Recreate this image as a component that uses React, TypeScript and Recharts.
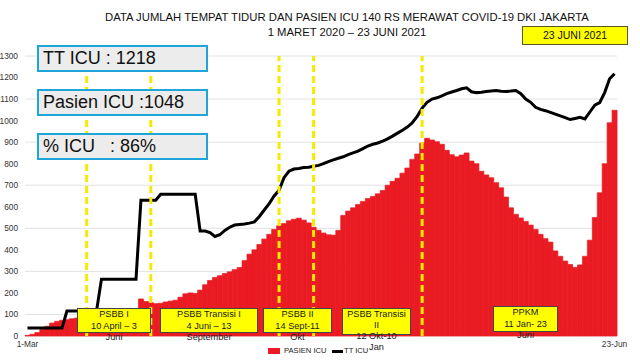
import { Bar, CartesianGrid, ComposedChart, Line, ReferenceLine, XAxis, YAxis } from "recharts";

// ICU patients, one reading every ~4 days, 1 Mar 2020 -> 23 Jun 2021
const pasienIcu = [
  3, 8, 16, 30, 45, 60, 68, 73, 76, 80,
  83, 85, 88, 90, 92, 95, 97, 100, 102, 105,
  108, 112, 118, 172, 160, 155, 150, 152, 158, 162,
  166, 180, 196, 200, 198, 213, 238, 258, 272, 280,
  290, 298, 308, 318, 350, 380, 400, 425, 450, 472,
  495, 512, 522, 535, 542, 547, 538, 525, 505, 491,
  478, 470, 468, 490, 560, 580, 595, 610, 625, 638,
  648, 660, 675, 700, 718, 732, 756, 780, 820, 845,
  895, 918, 910, 902, 890, 862, 842, 832, 840, 850,
  812, 800, 765, 748, 735, 712, 688, 645, 595, 565,
  548, 532, 515, 495, 472, 452, 436, 395, 370, 348,
  332, 318, 330, 370, 445, 550, 665, 800, 990, 1048,
];

// ICU beds (TT ICU)
const ttIcu = [
  37, 37, 37, 37, 37, 37, 37, 37, 116, 116,
  116, 116, 116, 116, 116, 264, 264, 264, 264, 264,
  264, 264, 264, 630, 630, 630, 630, 658, 658, 658,
  658, 658, 658, 658, 658, 487, 487, 480, 462, 470,
  490, 505, 515, 518, 520, 524, 530, 555, 585, 615,
  650, 677, 735, 765, 775, 778, 782, 784, 788, 792,
  800, 810, 818, 825, 832, 842, 850, 858, 870, 882,
  890, 896, 905, 915, 928, 942, 955, 970, 990, 1020,
  1058, 1085, 1100, 1106, 1115, 1125, 1133, 1140, 1148, 1152,
  1134, 1130, 1132, 1135, 1138, 1140, 1136, 1135, 1137, 1140,
  1125, 1100, 1085, 1062, 1052, 1046, 1038, 1030, 1022, 1014,
  1005, 1010, 1015, 1008, 1040, 1072, 1084, 1130, 1194, 1218,
];

const MONTHS = ["Jan", "Feb", "Mar", "Apr", "May", "Jun", "Jul", "Aug", "Sep", "Oct", "Nov", "Dec"];
const START = Date.UTC(2020, 2, 1);
const TOTAL_DAYS = 479;
const dates = pasienIcu.map((_, i) => {
  const d = new Date(START + Math.round((i * TOTAL_DAYS) / (pasienIcu.length - 1)) * 86400000);
  return `${d.getUTCDate()}-${MONTHS[d.getUTCMonth()]}-${d.getUTCFullYear()}`;
});

const yTicks = [0, 100, 200, 300, 400, 500, 600, 700, 800, 900, 1000, 1100, 1200, 1300];
const xTicks = [dates[0], dates[dates.length - 1]];
// where the yellow dashed phase lines sit (index into dates)
const phaseLineIdx = [12, 25, 51, 58, 80];

const stats = ["TT ICU : 1218", "Pasien ICU :1048", "% ICU   : 86%"];

const phases = [
  { left: 77, top: 308, width: 74, height: 25, textTop: 309, lines: ["PSBB I", "10 April – 3", "Juni"] },
  { left: 160, top: 308, width: 98, height: 25, textTop: 309, lines: ["PSBB Transisi I", "4 Juni – 13", "September"] },
  { left: 263, top: 308, width: 69, height: 25, textTop: 309, lines: ["PSBB II", "14 Sept-11", "Okt"] },
  { left: 342, top: 308, width: 69, height: 27, textTop: 308.5, lines: ["PSBB Transisi", "II", "12 Okt-10", "Jan"] },
  { left: 493, top: 306, width: 65, height: 26, textTop: 307, lines: ["PPKM", "11 Jan- 23", "Juni"] },
];

const data = dates.map((date, i) => ({ date, pasien: pasienIcu[i], tt: ttIcu[i] }));

const FONT = "'Liberation Sans', Arial, sans-serif";
const RED = "#ea1b23";
const tickStyle = { fontSize: 8.3, fill: "#333", fontFamily: FONT };

export default function App() {
  return (
    <div
      style={{
        position: "absolute",
        left: 0,
        top: 0,
        width: 640,
        height: 360,
        overflow: "hidden",
        background: "#fff",
        fontFamily: FONT,
      }}
    >
      <ComposedChart
        width={640}
        height={360}
        data={data}
        margin={{ top: 56, right: 0, bottom: 0, left: 0 }}
        barCategoryGap={0}
        barGap={0}
      >
        <CartesianGrid vertical={false} stroke="#e2e2e2" />
        <XAxis
          dataKey="date"
          ticks={xTicks}
          interval={0}
          height={24}
          tickLine={false}
          axisLine={false}
          tickSize={0}
          tickMargin={5}
          tick={tickStyle}
          tickFormatter={(v: string) => v.split("-").slice(0, 2).join("-")}
        />
        <YAxis
          domain={[0, 1300]}
          ticks={yTicks}
          width={25}
          tickLine={false}
          axisLine={false}
          tickSize={0}
          tickMargin={7}
          tick={tickStyle}
        />
        <YAxis
          yAxisId="r"
          orientation="right"
          domain={[0, 1300]}
          ticks={yTicks}
          width={23}
          tickLine={false}
          axisLine={false}
          tickSize={0}
          tickMargin={5}
          tick={{ ...tickStyle, textAnchor: "start" }}
        />
        <Bar dataKey="pasien" fill={RED} stroke={RED} strokeWidth={0.7} isAnimationActive={false} />
        <Line
          type="linear"
          dataKey="tt"
          stroke="#000"
          strokeWidth={3}
          dot={false}
          isAnimationActive={false}
        />
        {phaseLineIdx.map((i) => (
          <ReferenceLine key={i} x={dates[i]} stroke="#f7ea00" strokeWidth={3} strokeDasharray="7 4" />
        ))}
      </ComposedChart>

      <div
        style={{
          position: "absolute",
          left: 97,
          top: 9.5,
          width: 500,
          textAlign: "center",
          fontSize: 11.3,
          lineHeight: "15px",
          color: "#111",
        }}
      >
        <div>DATA JUMLAH TEMPAT TIDUR DAN PASIEN ICU 140 RS MERAWAT COVID-19 DKI JAKARTA</div>
        <div>1 MARET 2020 – 23 JUNI 2021</div>
      </div>

      <div
        style={{
          position: "absolute",
          left: 522,
          top: 26,
          width: 106,
          height: 19,
          boxSizing: "border-box",
          background: "#ffff00",
          border: "1px solid #5a5a20",
          fontSize: 10.5,
          lineHeight: "17px",
          textAlign: "center",
          color: "#111",
        }}
      >
        23 JUNI 2021
      </div>

      {stats.map((s, i) => (
        <div
          key={s}
          style={{
            position: "absolute",
            left: 37,
            top: 45 + i * 44,
            width: 171,
            height: 27,
            boxSizing: "border-box",
            border: "2px solid #1ea5da",
            background: "#ececec",
            fontSize: 18,
            lineHeight: "23px",
            paddingLeft: 4,
            whiteSpace: "pre",
            color: "#111",
          }}
        >
          {s}
        </div>
      ))}

      {phases.map((p) => (
        <div key={p.lines[0]}>
          <div
            style={{
              position: "absolute",
              left: p.left,
              top: p.top,
              width: p.width,
              height: p.height,
              boxSizing: "border-box",
              background: "#ffff00",
              border: "1px solid #444",
            }}
          />
          <div
            style={{
              position: "absolute",
              left: p.left - 10,
              top: p.textTop,
              width: p.width + 20,
              textAlign: "center",
              fontSize: 9.2,
              lineHeight: p.lines.length > 3 ? "11px" : "11.5px",
              color: "#222",
            }}
          >
            {p.lines.map((l) => (
              <div key={l}>{l}</div>
            ))}
          </div>
        </div>
      ))}

      <div style={{ position: "absolute", left: 268, top: 348, width: 12, height: 6, background: RED }} />
      <div style={{ position: "absolute", left: 284, top: 346, fontSize: 7.6, lineHeight: "10px", color: "#222" }}>
        PASIEN ICU
      </div>
      <div style={{ position: "absolute", left: 332, top: 350, width: 11, height: 2.5, background: "#000" }} />
      <div style={{ position: "absolute", left: 344, top: 346, fontSize: 7.6, lineHeight: "10px", color: "#222" }}>
        TT ICU
      </div>
    </div>
  );
}
